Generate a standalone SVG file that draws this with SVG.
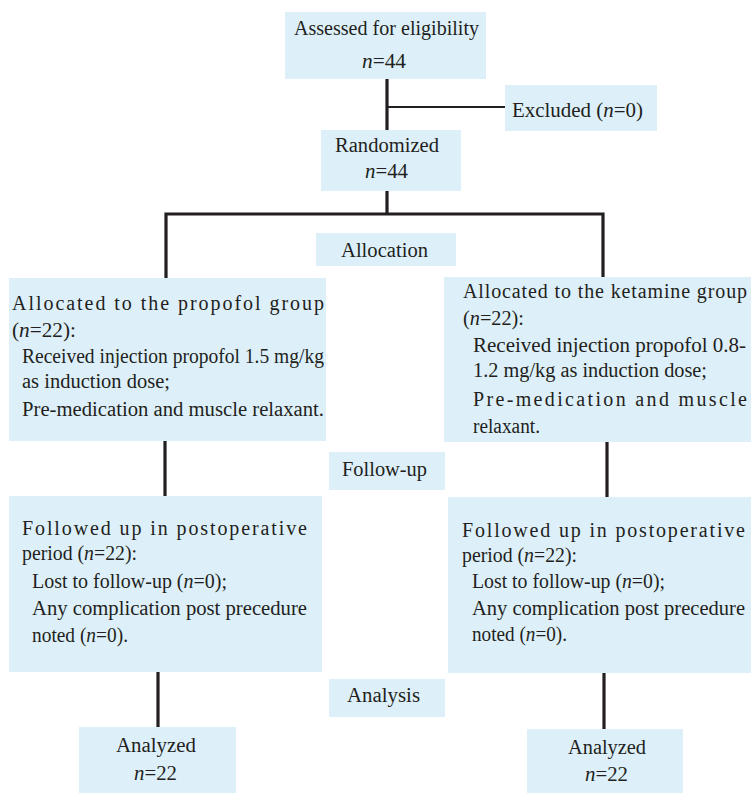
<svg xmlns="http://www.w3.org/2000/svg" width="751" height="793" viewBox="0 0 751 793">
<style>
.box{fill:#DDF0FA}
text{font-family:'Liberation Serif','Times New Roman','DejaVu Serif',serif;font-size:20px;fill:#231F20}
.i{font-style:italic}
.ln{stroke:#231F20;stroke-width:3.2;fill:none}
.thin{stroke:#231F20;stroke-width:2;fill:none}
</style>
<rect width="751" height="793" fill="#fff"/>
<g id="connectors">
<line class="ln" x1="387" y1="79" x2="387" y2="131"/>
<line class="thin" x1="387" y1="107" x2="505" y2="107"/>
<line class="ln" x1="387" y1="191" x2="387" y2="214"/>
<polyline class="ln" points="166,278 166,214 603,214 603,277"/>
<line class="ln" x1="165" y1="441" x2="165" y2="496"/>
<line class="ln" x1="607" y1="442" x2="607" y2="497"/>
<line class="ln" x1="158" y1="672" x2="158" y2="727"/>
<line class="ln" x1="604" y1="673" x2="604" y2="729"/>
</g>
<g id="assessed">
<rect class="box" x="285" y="12" width="201" height="67"/>
<text x="294" y="35" textLength="185" lengthAdjust="spacingAndGlyphs">Assessed for eligibility</text>
<text x="362" y="68" textLength="44" lengthAdjust="spacingAndGlyphs"><tspan class="i">n</tspan>=44</text>
</g>
<g id="excluded">
<rect class="box" x="505" y="85" width="152" height="46"/>
<text x="512" y="117" textLength="131" lengthAdjust="spacingAndGlyphs">Excluded (<tspan class="i">n</tspan>=0)</text>
</g>
<g id="randomized">
<rect class="box" x="321" y="130" width="140" height="61"/>
<text x="335" y="152" textLength="104" lengthAdjust="spacingAndGlyphs">Randomized</text>
<text x="365" y="178" textLength="43" lengthAdjust="spacingAndGlyphs"><tspan class="i">n</tspan>=44</text>
</g>
<g id="allocation">
<rect class="box" x="316" y="233" width="140" height="33"/>
<text x="341" y="257" textLength="87" lengthAdjust="spacingAndGlyphs">Allocation</text>
</g>
<g id="propofol-group">
<rect class="box" x="9" y="278" width="317" height="163"/>
<text x="12" y="310" textLength="312" lengthAdjust="spacing">Allocated to the propofol group</text>
<text x="12" y="337" textLength="64" lengthAdjust="spacingAndGlyphs">(<tspan class="i">n</tspan>=22):</text>
<text x="22" y="363" textLength="302" lengthAdjust="spacingAndGlyphs">Received injection propofol 1.5 mg/kg</text>
<text x="22" y="388" textLength="148" lengthAdjust="spacingAndGlyphs">as induction dose;</text>
<text x="22" y="416" textLength="302" lengthAdjust="spacingAndGlyphs">Pre-medication and muscle relaxant.</text>
</g>
<g id="ketamine-group">
<rect class="box" x="444" y="277" width="307" height="165"/>
<text x="463" y="298" textLength="284" lengthAdjust="spacing">Allocated to the ketamine group</text>
<text x="463" y="325" textLength="61" lengthAdjust="spacingAndGlyphs">(<tspan class="i">n</tspan>=22):</text>
<text x="473" y="352" textLength="273" lengthAdjust="spacingAndGlyphs">Received injection propofol 0.8-</text>
<text x="473" y="377" textLength="234" lengthAdjust="spacingAndGlyphs">1.2 mg/kg as induction dose;</text>
<text x="473" y="406" textLength="274" lengthAdjust="spacing">Pre-medication and muscle</text>
<text x="473" y="433" textLength="67" lengthAdjust="spacingAndGlyphs">relaxant.</text>
</g>
<g id="followup-label">
<rect class="box" x="329" y="452" width="116" height="38"/>
<text x="342" y="476" textLength="85" lengthAdjust="spacingAndGlyphs">Follow-up</text>
</g>
<g id="followup-propofol">
<rect class="box" x="9" y="496" width="313" height="176"/>
<text x="22" y="535" textLength="285" lengthAdjust="spacing">Followed up in postoperative</text>
<text x="22" y="560" textLength="115" lengthAdjust="spacingAndGlyphs">period (<tspan class="i">n</tspan>=22):</text>
<text x="32" y="588" textLength="195" lengthAdjust="spacingAndGlyphs">Lost to follow-up (<tspan class="i">n</tspan>=0);</text>
<text x="32" y="615" textLength="275" lengthAdjust="spacingAndGlyphs">Any complication post precedure</text>
<text x="32" y="642" textLength="96" lengthAdjust="spacingAndGlyphs">noted (<tspan class="i">n</tspan>=0).</text>
</g>
<g id="followup-ketamine">
<rect class="box" x="448" y="497" width="303" height="176"/>
<text x="462" y="537" textLength="283" lengthAdjust="spacing">Followed up in postoperative</text>
<text x="462" y="562" textLength="115" lengthAdjust="spacingAndGlyphs">period (<tspan class="i">n</tspan>=22):</text>
<text x="472" y="588" textLength="193" lengthAdjust="spacingAndGlyphs">Lost to follow-up (<tspan class="i">n</tspan>=0);</text>
<text x="472" y="615" textLength="273" lengthAdjust="spacingAndGlyphs">Any complication post precedure</text>
<text x="472" y="641" textLength="95" lengthAdjust="spacingAndGlyphs">noted (<tspan class="i">n</tspan>=0).</text>
</g>
<g id="analysis-label">
<rect class="box" x="329" y="679" width="116" height="38"/>
<text x="347" y="702" textLength="73" lengthAdjust="spacingAndGlyphs">Analysis</text>
</g>
<g id="analyzed-propofol">
<rect class="box" x="79" y="727" width="157" height="66"/>
<text x="116" y="752" textLength="80" lengthAdjust="spacingAndGlyphs">Analyzed</text>
<text x="134" y="780" textLength="43" lengthAdjust="spacingAndGlyphs"><tspan class="i">n</tspan>=22</text>
</g>
<g id="analyzed-ketamine">
<rect class="box" x="527" y="729" width="156" height="64"/>
<text x="568" y="754" textLength="78" lengthAdjust="spacingAndGlyphs">Analyzed</text>
<text x="585" y="781" textLength="43" lengthAdjust="spacingAndGlyphs"><tspan class="i">n</tspan>=22</text>
</g>
</svg>
